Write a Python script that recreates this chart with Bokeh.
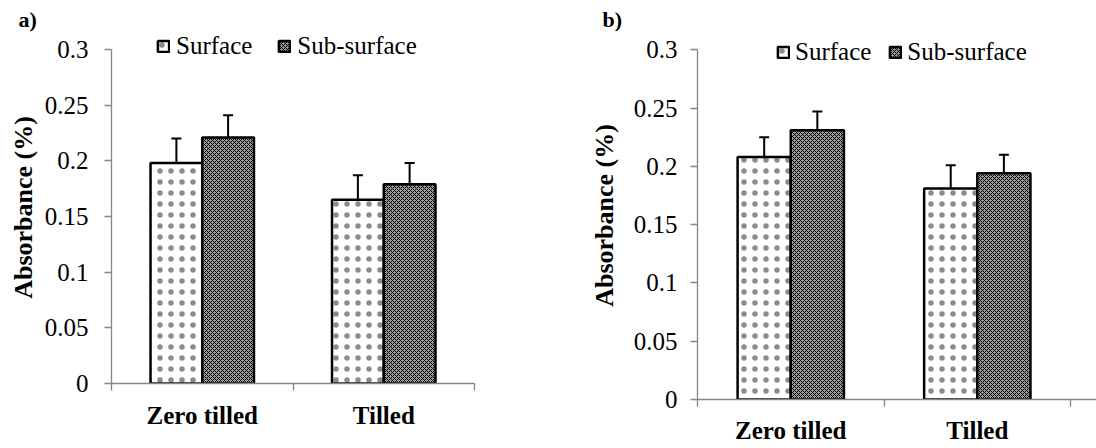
from bokeh.plotting import figure
from bokeh.models import (Range1d, FixedTicker, LinearAxis, ColumnDataSource, Whisker,
                          TeeHead, Legend, LegendItem, Title)
from bokeh.layouts import row
from bokeh.embed import file_html
from bokeh.resources import INLINE

# ---------------- data ----------------
categories = ["Zero tilled", "Tilled"]
series = ["Surface", "Sub-surface"]
y_ticks = [0, 0.05, 0.1, 0.15, 0.2, 0.25, 0.3]
y_tick_labels = ["0", "0.05", "0.1", "0.15", "0.2", "0.25", "0.3"]

a_surface = [0.198, 0.165]
a_surface_err = [0.022, 0.022]
a_sub = [0.221, 0.179]
a_sub_err = [0.020, 0.019]

b_surface = [0.208, 0.181]
b_surface_err = [0.017, 0.020]
b_sub = [0.231, 0.194]
b_sub_err = [0.016, 0.016]

FONT = "Liberation Serif"
AXIS_GRAY = "#868686"
BAR_W = 0.285

DOTS = dict(hatch_pattern="dot", hatch_scale=11, hatch_alpha=0.45,
            hatch_color="black", fill_color="white")
CHECK = dict(hatch_pattern="diagonal_cross", hatch_scale=4, hatch_weight=1,
             hatch_color="black", fill_color="#9a9a9a")


def make_panel(tag, surface, surface_err, sub, sub_err, g):
    frame_top, frame_bottom = g["top"], g["height"] - g["bottom"]
    y_end = 0.3 * (frame_bottom - frame_top) / (frame_bottom - g["y03"])
    p = figure(width=g["width"], height=g["height"],
               x_range=Range1d(0, g["xend"]), y_range=Range1d(0, y_end),
               x_axis_type=None, y_axis_type=None,
               output_backend="svg", toolbar_location=None,
               min_border_left=g["left"], min_border_right=g["right"],
               min_border_top=g["top"], min_border_bottom=g["bottom"],
               frame_align=False)
    p.outline_line_color = None
    p.xgrid.visible = False
    p.ygrid.visible = False

    p.title = Title(text=tag, align="left", offset=g["tag_x"], standoff=0,
                    vertical_align="bottom", text_font=FONT, text_font_size="22px",
                    text_font_style="bold", text_color="black")

    centers = [i + 0.5 for i in range(len(categories))]
    src_s = ColumnDataSource(dict(x=[c - BAR_W / 2 for c in centers], top=surface,
                                  upper=[v + e for v, e in zip(surface, surface_err)],
                                  lower=[v - e for v, e in zip(surface, surface_err)]))
    src_u = ColumnDataSource(dict(x=[c + BAR_W / 2 for c in centers], top=sub,
                                  upper=[v + e for v, e in zip(sub, sub_err)],
                                  lower=[v - e for v, e in zip(sub, sub_err)]))

    r1 = p.vbar(x="x", top="top", bottom=0, width=BAR_W, source=src_s,
                line_color="black", line_width=2.5, **DOTS)
    r2 = p.vbar(x="x", top="top", bottom=0, width=BAR_W, source=src_u,
                line_color="black", line_width=2.5, **CHECK)

    for src in (src_s, src_u):
        p.add_layout(Whisker(base="x", upper="upper", lower="lower", source=src,
                             dimension="height", line_color="black", line_width=2,
                             upper_head=TeeHead(size=10, line_width=2, line_color="black"),
                             lower_head=TeeHead(size=10, line_width=2, line_color="black")))

    yaxis = LinearAxis(ticker=FixedTicker(ticks=y_ticks),
                       major_label_overrides={t: l for t, l in zip(y_ticks, y_tick_labels)},
                       bounds=(0, 0.3),
                       axis_label="Absorbance (%)",
                       axis_label_text_font=FONT, axis_label_text_font_size="26px",
                       axis_label_text_font_style="bold", axis_label_text_color="black",
                       axis_label_standoff=g["lab_standoff"],
                       major_label_text_font=FONT, major_label_text_font_size="25px",
                       major_label_text_color="black",
                       major_label_standoff=g["tick_standoff"],
                       axis_line_color=AXIS_GRAY, axis_line_width=1.3,
                       major_tick_line_color=AXIS_GRAY, major_tick_line_width=1.3,
                       major_tick_out=7, major_tick_in=0,
                       minor_tick_line_color=None)
    p.add_layout(yaxis, "left")

    xaxis = LinearAxis(ticker=FixedTicker(ticks=centers,
                                          minor_ticks=list(range(len(categories) + 1))),
                       major_label_overrides={c: n for c, n in zip(centers, categories)},
                       major_label_text_font=FONT, major_label_text_font_size="25px",
                       major_label_text_font_style="bold", major_label_text_color="black",
                       major_label_standoff=g["xlab_standoff"],
                       axis_line_color=AXIS_GRAY, axis_line_width=1.3,
                       major_tick_line_color=None, major_tick_out=7, major_tick_in=0,
                       minor_tick_line_color=AXIS_GRAY, minor_tick_line_width=1.3,
                       minor_tick_out=7, minor_tick_in=0)
    p.add_layout(xaxis, "below")

    legend = Legend(items=[LegendItem(label=series[0], renderers=[r1]),
                           LegendItem(label=series[1], renderers=[r2])],
                    orientation="horizontal", location=g["leg_loc"],
                    glyph_width=14, glyph_height=14,
                    label_standoff=g["leg_standoff"], spacing=g["leg_spacing"],
                    padding=0, margin=0, border_line_color=None,
                    background_fill_alpha=0,
                    label_text_font=FONT, label_text_font_size="25px",
                    label_text_color="black")
    p.add_layout(legend)
    return p


# geometry in page pixels (figure a at x=0, figure b at x=540)
ga = dict(width=540, height=448, left=111, right=66, top=31, bottom=65, y03=49, xend=2,
          lab_standoff=4, tick_standoff=16, xlab_standoff=11,
          leg_loc=(45, 323), leg_standoff=6, leg_spacing=25, tag_x=-93)
gb = dict(width=556, height=448, left=157, right=0, top=31, bottom=49, y03=49.3, xend=2.139,
          lab_standoff=12, tick_standoff=13, xlab_standoff=10,
          leg_loc=(79, 333), leg_standoff=5, leg_spacing=17, tag_x=-95)

pa = make_panel("a)", a_surface, a_surface_err, a_sub, a_sub_err, ga)
pb = make_panel("b)", b_surface, b_surface_err, b_sub, b_sub_err, gb)

layout = row(pa, pb)
open("out.html", "w").write(file_html(layout, INLINE))
